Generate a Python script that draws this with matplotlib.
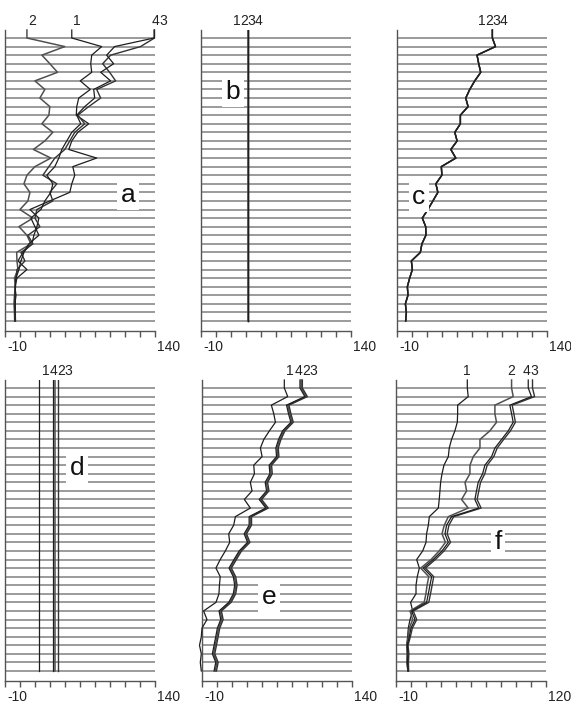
import matplotlib
matplotlib.use("Agg")
import matplotlib.pyplot as plt

plt.rcParams["font.family"] = ["Liberation Sans", "DejaVu Sans"]

W, H = 571, 703
N_ROWS = 34
rows = list(range(N_ROWS))

# panel a: four scattered series
a_s1 = [57, 87, 77, 76, 77, 65.5, 75.6, 64, 62, 61.5, 74, 63, 57, 54, 82, 58, 60, 57,
        55, 35, 15, 24, 22, 19, 17, 8, 3, 12, 2, 0, 1, 0, 0.5, 0]
a_s2 = [12, 50, 27, 35, 42.7, 20, 30, 25, 35, 34, 27, 38, 30, 18.5, 36, 20, 12, 9,
        15, 13, 5, 18, 4, 12, 16, 1.7, 2, 3, -0.5, 0.5, -0.5, -1, -0.5, -0.3]
a_s3 = [140, 126, 96, 88, 95, 101, 82, 86, 74, 63, 70, 60, 55, 50, 40, 34, 28, 42,
        35, 38, 22, 20, 25, 13, 18, 6, 10, 2, 1, 0, 0.5, 0, 0.3, 0.5]
a_s4 = [139.6, 100, 92, 99, 86, 96, 79, 80, 70, 62, 66, 57, 52, 47, 44, 40, 32, 38,
        36, 30, 26, 16, 20, 24, 14, 9, 6, 4, 1, 0.5, 0, 0.3, 0, 0]

# panel b and d: constant series (one value per series)
b_const = [36.7, 36.7, 36.7, 36.7]
d_const = [24.6, 40.3, 42.7, 38.0]

# panel c: all four series identical
c_vals = [85.7, 88.8, 70.3, 72, 74, 68, 63, 59, 61.3, 53.6, 53.6, 48, 50.3, 44, 49,
          34.5, 35, 29, 31, 26, 21, 15.4, 18.8, 19, 15, 13.4, 4.4, 5.4, 2.7, 0.4, 1,
          -1.6, -0.6, -1.3]

# panel e
e_s1 = [72.6, 76, 59.6, 62, 63.7, 57.6, 52, 48.6, 50.3, 41.9, 42.6, 38.5, 40.2, 32.5,
        38.5, 23.5, 21.8, 16.8, 17.8, 13.4, 8.3, 4, 8.3, 7.5, 7, 4, -8.4, -5, -10,
        -10.7, -12.5, -10.7, -11.7, -10.7]
e_s2 = [89.5, 94.5, 76, 78, 80.4, 72, 68, 65.3, 66, 58.6, 59.3, 54.6, 56, 48.6, 55.3,
        38.5, 38.5, 33.5, 36.9, 28.5, 23.3, 18.3, 22.6, 24, 22.6, 18, 8.3, 10, 6.6, 5,
        3.3, 1.6, 5, 3.3]
e_s3 = [90.7, 95.7, 77.2, 79.2, 81.6, 73.2, 69.2, 66.5, 67.2, 59.8, 60.5, 55.8, 57.2,
        49.8, 56.5, 39.7, 39.7, 34.7, 38.1, 29.7, 24.5, 19.5, 23.8, 25.2, 23.8, 19.2,
        9.5, 11.2, 7.8, 6.2, 4.5, 2.8, 6.2, 4.5]
e_s4 = [88.3, 93.2, 74.8, 76.8, 79.2, 70.8, 66.8, 64.1, 64.8, 57.4, 58.1, 53.4, 54.8,
        47.4, 54.1, 37.3, 37.3, 32.3, 35.7, 27.3, 22.1, 17.1, 21.4, 22.8, 21.4, 16.8,
        7.1, 8.8, 5.4, 3.8, 2.1, 0.4, 3.8, 2.1]

# panel f (axis -10..120)
f_s1 = [52, 52.8, 43.6, 43.6, 43.3, 41.2, 38.3, 36.3, 35.5, 31.7, 30, 28.8, 28.2,
        27.6, 26.8, 19, 18.1, 16.6, 16.1, 13.2, 8, 10.3, 8.5, 7.4, 7.4, 2.7, 4.5, 2.2,
        0.7, 0.1, -0.7, -0.2, -0.5, 0.4]
f_s2 = [90.5, 91.9, 76, 76, 77.4, 71.6, 63, 63, 57.2, 54.3, 54.3, 50, 51.4, 47, 52.8,
        35.5, 32, 30, 33, 27.5, 20.5, 11.5, 18.5, 17, 16, 14.5, 2.2, 4.5, 1.6, 0.7,
        -0.5, -0.2, -0.5, 0.4]
f_s3 = [108.7, 110.5, 91, 92.5, 93.8, 89.5, 83.6, 78, 75, 69.3, 67.2, 63.5, 62, 60.5,
        64, 40.2, 36, 34.5, 37.4, 31.8, 24.2, 15.6, 22.8, 21.4, 20, 18.5, 5, 8, 4.2,
        2.5, 0.5, 1.2, 0.8, 1]
f_s4 = [105, 107.8, 89, 90.5, 91.9, 87.6, 81.8, 76, 73.1, 67.3, 65.3, 61.5, 60, 58.6,
        62, 38.3, 34, 32.6, 35.5, 30, 22.4, 13.7, 21, 19.5, 18.1, 16.6, 3.6, 6.5, 3,
        1.6, -0.2, 0.4, 0, 0.4]

series_names = ["1", "2", "3", "4"]
S_COLOR = ["#1e1e1e", "#505050", "#333333", "#1e1e1e"]
S_LW = [0.9, 1.1, 1.0, 0.9]
GRID_C = "#808080"
AX_C = "#555555"

ROW_TOP_PX = 38
ROW_STEP_PX = 283 / 33
AX_TOP_PX, AX_BOT_PX = 30, 331
AX_W_PX = 149.5


def px_to_row(py):
    return (py - ROW_TOP_PX) / ROW_STEP_PX


def make_axes(fig, spine_px, y_shift, xmax):
    left = spine_px / W
    bottom = 1 - (AX_BOT_PX + y_shift) / H
    ax = fig.add_axes([left, bottom, AX_W_PX / W, (AX_BOT_PX - AX_TOP_PX) / H])
    ax.set_xlim(-10, xmax)
    ax.set_ylim(px_to_row(AX_BOT_PX), px_to_row(AX_TOP_PX))
    for s in ["top", "right"]:
        ax.spines[s].set_visible(False)
    for s in ["left", "bottom"]:
        ax.spines[s].set_color(AX_C)
        ax.spines[s].set_linewidth(1.0)
    step = (xmax + 10) / 10
    ax.set_xticks([-10 + step * k for k in range(11)])
    ax.set_xticklabels([])
    ax.set_yticks([])
    ax.tick_params(axis="x", direction="out", length=4.5, width=1.0, color=AX_C)
    ax.hlines(rows, -10, xmax, color=GRID_C, lw=1.1, zorder=1)
    for x, lab, dx in [(-10, "-10", 12), (xmax, f"{xmax:g}", 14)]:
        ax.annotate(lab, xy=(x, px_to_row(AX_BOT_PX)), xytext=(dx, -16),
                    textcoords="offset pixels", ha="center", va="center",
                    fontsize=10, color="#222222", annotation_clip=False)
    return ax


def draw_labels(ax, starts_by_series, xmax, label_dx):
    # pack the series labels side by side so they don't overlap
    top_row = px_to_row(AX_TOP_PX)
    w = 7.3 * (xmax + 10) / AX_W_PX
    order = sorted(range(4), key=lambda k: (starts_by_series[k], k))
    starts = [starts_by_series[k] for k in order]
    clusters = [[j] for j in range(4)]
    pos = list(starts)
    changed = True
    while changed:
        changed = False
        for ci in range(len(clusters) - 1):
            a, b = clusters[ci], clusters[ci + 1]
            if pos[b[0]] - pos[a[-1]] < w - 1e-9:
                merged = a + b
                c = sum(starts[j] for j in merged) / len(merged)
                n = len(merged)
                for m, j in enumerate(merged):
                    pos[j] = c + (m - (n - 1) / 2) * w
                clusters[ci:ci + 2] = [merged]
                changed = True
                break
    for j, k in enumerate(order):
        ax.annotate(series_names[k], xy=(pos[j], top_row), xytext=(label_dx, 2),
                    textcoords="offset pixels", ha="center", va="bottom",
                    fontsize=10, color="#222222", annotation_clip=False)


def draw_series(ax, series, xmax, label_dx):
    top_row = px_to_row(AX_TOP_PX)
    for i, vals in enumerate(series):
        ax.plot([vals[0]] + list(vals), [top_row] + rows[:len(vals)],
                color=S_COLOR[i], lw=S_LW[i], clip_on=False, zorder=3)
    draw_labels(ax, [s[0] for s in series], xmax, label_dx)


def draw_const(ax, consts, xmax, label_dx):
    top_row = px_to_row(AX_TOP_PX)
    for i, v in enumerate(consts):
        ax.plot([v, v], [top_row, rows[-1]], color=S_COLOR[i], lw=S_LW[i],
                zorder=3)
    draw_labels(ax, consts, xmax, label_dx)


def letter(ax, txt, fx, fy):
    ax.text(fx, fy, txt, transform=ax.transAxes, ha="center", va="center",
            fontsize=19, color="#111111", zorder=5,
            bbox=dict(facecolor="white", edgecolor="none", pad=2.5))


fig = plt.figure(figsize=(W / 100, H / 100), dpi=100)

ax = make_axes(fig, 5, 0, 140)
draw_series(ax, [a_s1, a_s2, a_s3, a_s4], 140, 5)
letter(ax, "a", 0.823, 0.452)

ax = make_axes(fig, 201, 0, 140)
draw_const(ax, b_const, 140, 0)
letter(ax, "b", 0.214, 0.794)

ax = make_axes(fig, 397, 0, 140)
draw_series(ax, [c_vals, c_vals, c_vals, c_vals], 140, 0)
letter(ax, "c", 0.147, 0.445)

ax = make_axes(fig, 5, 350, 140)
draw_const(ax, d_const, 140, 6)
letter(ax, "d", 0.482, 0.708)

ax = make_axes(fig, 202, 350, 140)
draw_series(ax, [e_s1, e_s2, e_s3, e_s4], 140, 5)
letter(ax, "e", 0.448, 0.279)

ax = make_axes(fig, 396, 350, 120)
draw_series(ax, [f_s1, f_s2, f_s3, f_s4], 120, 0)
letter(ax, "f", 0.682, 0.462)

fig.savefig("out.png", dpi=100)
